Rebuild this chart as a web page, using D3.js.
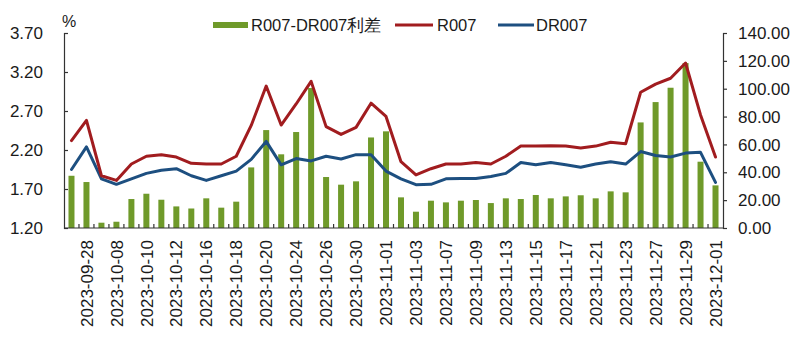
<!DOCTYPE html>
<html>
<head>
<meta charset="utf-8">
<script src="https://cdn.jsdelivr.net/npm/d3@7"></script>
<style>
  html, body { margin: 0; padding: 0; background: #ffffff; }
  svg { display: block; font-family: "Liberation Sans", Arial, sans-serif; }
</style>
</head>
<body>
<svg id="chart" width="800" height="360"></svg>
<script>
const dates = ["2023-09-27","2023-09-28","2023-10-07","2023-10-08","2023-10-09","2023-10-10","2023-10-11","2023-10-12","2023-10-13","2023-10-16",
  "2023-10-17","2023-10-18","2023-10-19","2023-10-20","2023-10-23","2023-10-24","2023-10-25","2023-10-26","2023-10-27","2023-10-30",
  "2023-10-31","2023-11-01","2023-11-02","2023-11-03","2023-11-06","2023-11-07","2023-11-08","2023-11-09","2023-11-10","2023-11-13",
  "2023-11-14","2023-11-15","2023-11-16","2023-11-17","2023-11-20","2023-11-21","2023-11-22","2023-11-23","2023-11-24","2023-11-27",
  "2023-11-28","2023-11-29","2023-11-30","2023-12-01"];
const spread = [37.5,33,3.8,4.5,20.8,24.6,20.3,15.5,14,21.3,
  14.6,18.9,43.5,70.3,52.9,68.9,100.5,36.6,31.1,33.5,
  65,69.4,22,11.7,19.6,18.4,19.6,20.1,17.9,21.3,
  20.8,23.7,21.3,22.7,23.5,21.3,26.3,25.6,75.8,90.4,
  100.7,118.4,47.6,30.6];
const r007 = [2.32,2.58,1.87,1.81,2.02,2.12,2.14,2.11,2.03,2.02,
  2.02,2.12,2.515,3.02,2.52,2.79,3.08,2.50,2.40,2.49,
  2.80,2.63,2.05,1.88,1.96,2.02,2.02,2.04,2.02,2.12,
  2.25,2.25,2.255,2.25,2.225,2.25,2.30,2.28,2.94,3.045,
  3.12,3.315,2.65,2.11];
const dr007 = [1.95,2.24,1.83,1.76,1.83,1.90,1.94,1.96,1.87,1.81,
  1.87,1.93,2.08,2.31,2.01,2.09,2.06,2.12,2.085,2.14,
  2.14,1.93,1.83,1.755,1.76,1.83,1.835,1.835,1.86,1.90,
  2.04,2.01,2.04,2.01,1.98,2.02,2.05,2.02,2.18,2.13,
  2.11,2.16,2.17,1.785];
const leftTicks = [1.20,1.70,2.20,2.70,3.20,3.70];
const rightTicks = [0,20,40,60,80,100,120,140];
const seriesNames = ["R007-DR007利差","R007","DR007"];

const colBar = "#6f9a2a", colRed = "#a11c1f", colBlue = "#1d4f80", colAxis = "#333333", colText = "#1a1a1a";

const svg = d3.select("#chart");
const L = 64, R = 723, T = 33, B = 228;

const x = d3.scaleBand().domain(dates).range([L, R]).paddingInner(0).paddingOuter(0);
const yL = d3.scaleLinear().domain([1.2, 3.7]).range([B, T]);
const yR = d3.scaleLinear().domain([0, 140]).range([B, T]);
const barW = 6;

// bars
svg.append("g").selectAll("rect").data(dates).join("rect")
  .attr("x", d => x(d) + x.bandwidth()/2 - barW/2)
  .attr("y", (d,i) => yR(spread[i]))
  .attr("width", barW)
  .attr("height", (d,i) => B - yR(spread[i]))
  .attr("fill", colBar);

// lines
const lineGen = arr => d3.line()
  .x((d,i) => x(dates[i]) + x.bandwidth()/2)
  .y(d => yL(d))(arr);
svg.append("path").attr("d", lineGen(dr007)).attr("fill","none").attr("stroke",colBlue)
  .attr("stroke-width",3).attr("stroke-linejoin","round").attr("stroke-linecap","round");
svg.append("path").attr("d", lineGen(r007)).attr("fill","none").attr("stroke",colRed)
  .attr("stroke-width",3).attr("stroke-linejoin","round").attr("stroke-linecap","round");

// left axis
const gL = svg.append("g").attr("transform", `translate(${L},0)`)
  .call(d3.axisRight(yL).tickValues(leftTicks).tickSize(4).tickFormat(""));
gL.select(".domain").attr("stroke", colAxis).attr("stroke-width",1.2);
gL.selectAll(".tick line").attr("stroke", colAxis).attr("stroke-width",1.2);
svg.append("g").selectAll("text").data(leftTicks).join("text")
  .attr("x", 43).attr("y", d => yL(d)).attr("dy","0.36em")
  .attr("text-anchor","end").attr("font-size",17).attr("fill",colText)
  .text(d => d3.format(".2f")(d));

// right axis
const gR = svg.append("g").attr("transform", `translate(${R},0)`)
  .call(d3.axisRight(yR).tickValues(rightTicks).tickSize(4).tickFormat(""));
gR.select(".domain").attr("stroke", colAxis).attr("stroke-width",1.2);
gR.selectAll(".tick line").attr("stroke", colAxis).attr("stroke-width",1.2);
svg.append("g").selectAll("text").data(rightTicks).join("text")
  .attr("x", 738).attr("y", d => yR(d)).attr("dy","0.36em")
  .attr("text-anchor","start").attr("font-size",17).attr("fill",colText)
  .text(d => d3.format(".2f")(d));

// bottom axis
svg.append("line").attr("x1", L).attr("x2", R).attr("y1", B).attr("y2", B)
  .attr("stroke", colAxis).attr("stroke-width",1.2);
svg.append("g").selectAll("line").data(dates.slice(1)).join("line")
  .attr("x1", d => x(d)).attr("x2", d => x(d))
  .attr("y1", B).attr("y2", B - 4)
  .attr("stroke", colAxis).attr("stroke-width",1.2);
svg.append("g").selectAll("text").data(dates.filter((d,i) => i % 2 === 1)).join("text")
  .attr("transform", d => `translate(${x(d) + x.bandwidth()/2},240) rotate(-90)`)
  .attr("text-anchor","end").attr("dy","0.36em")
  .attr("font-size",17).attr("fill",colText)
  .text(d => d);

// unit
svg.append("text").attr("x", 62).attr("y", 27).attr("font-size",16).attr("fill",colText).text("%");

// legend
svg.append("rect").attr("x",213).attr("y",22).attr("width",35).attr("height",6).attr("fill",colBar);
svg.append("text").attr("x",251).attr("y",25).attr("dy","0.36em").attr("font-size",16.5).attr("fill",colText).text(seriesNames[0]);
svg.append("line").attr("x1",395).attr("x2",433).attr("y1",25).attr("y2",25).attr("stroke",colRed).attr("stroke-width",3);
svg.append("text").attr("x",437).attr("y",25).attr("dy","0.36em").attr("font-size",16.5).attr("fill",colText).text(seriesNames[1]);
svg.append("line").attr("x1",498).attr("x2",534).attr("y1",25).attr("y2",25).attr("stroke",colBlue).attr("stroke-width",3);
svg.append("text").attr("x",536).attr("y",25).attr("dy","0.36em").attr("font-size",16.5).attr("fill",colText).text(seriesNames[2]);
</script>
</body>
</html>
